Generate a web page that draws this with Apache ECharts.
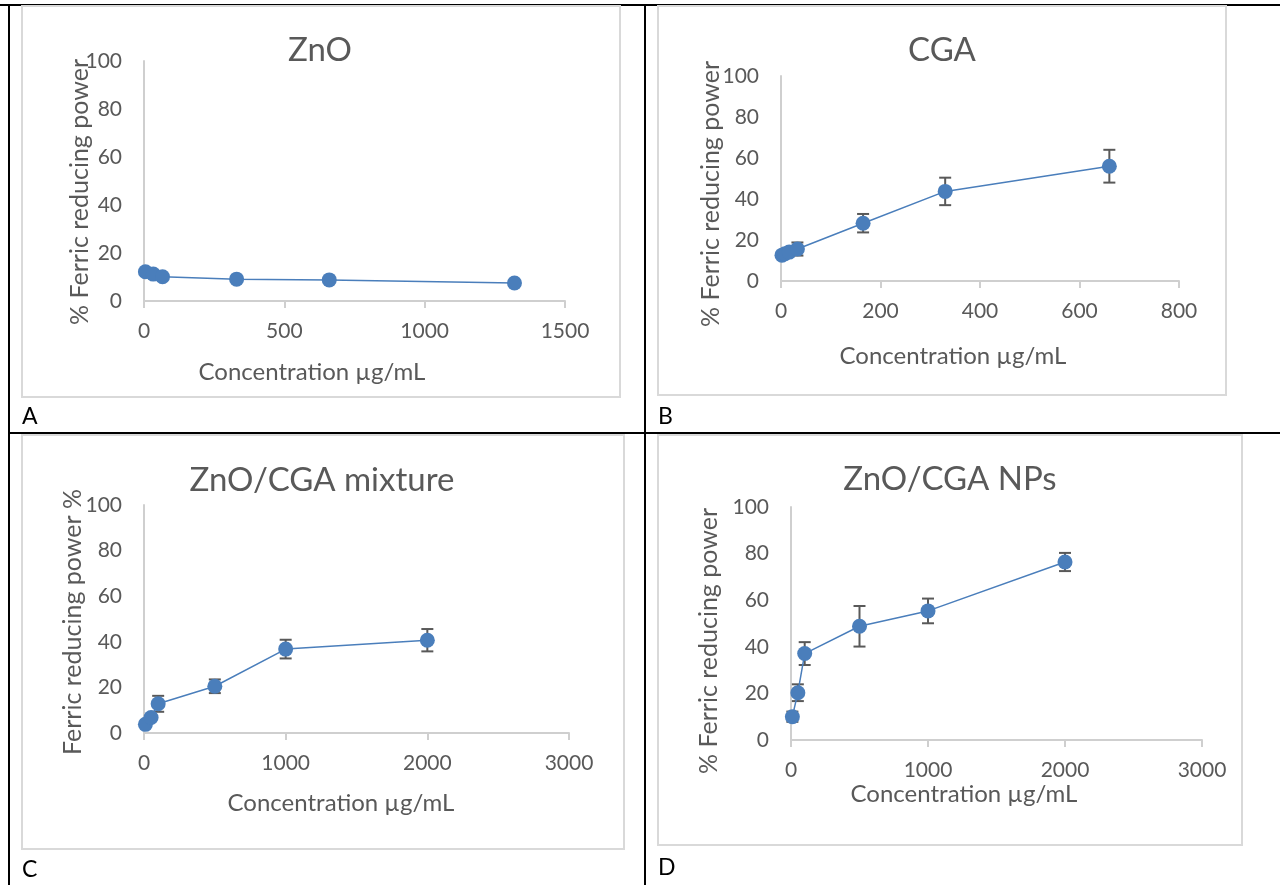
<!DOCTYPE html>
<html>
<head>
<meta charset="utf-8">
<title>Ferric reducing power</title>
<script src="https://cdn.jsdelivr.net/npm/echarts@6/dist/echarts.min.js"></script>
<style>
  html, body { margin: 0; padding: 0; background: #fff; }
  #chart { width: 1280px; height: 885px; }
</style>
</head>
<body>
<div id="chart"></div>
<script>
// ---- data: concentration (µg/mL), % ferric reducing power, error (±) ----
const concA = [5, 33, 66, 330, 660, 1320];
const valA  = [12.2, 11.2, 10.1, 9.1, 8.8, 7.5];

const concB = [2, 8, 16.5, 33, 165, 330, 660];
const valB  = [12.6, 13.3, 14.1, 15.6, 28.2, 43.7, 56.0];
const errB  = [1.0, 1.2, 1.5, 3.2, 4.5, 6.7, 8.0];

const concC = [10, 50, 100, 500, 1000, 2000];
const valC  = [3.8, 6.8, 12.8, 20.5, 36.8, 40.7];
const errC  = [0.8, 1.2, 3.5, 3.0, 4.1, 4.9];

const concD = [10, 50, 100, 500, 1000, 2000];
const valD  = [10.0, 20.3, 37.1, 48.8, 55.4, 76.4];
const errD  = [2.2, 3.6, 4.9, 8.7, 5.3, 3.9];

const titles = ['ZnO', 'CGA', 'ZnO/CGA mixture', 'ZnO/CGA NPs'];
const yNames = ['% Ferric reducing power', '% Ferric reducing power', 'Ferric reducing power %', '% Ferric reducing power'];
const xName = 'Concentration µg/mL';
const letters = ['A', 'B', 'C', 'D'];
const xMax = [1500, 800, 3000, 3000];
const xStep = [500, 200, 1000, 1000];

// ---- layout of the four panels ----
const panels = [
  { grid: { left: 144, top: 61, width: 421, height: 240 }, frame: [22, 6, 598, 391],
    title: [320, 50], xTitle: [312, 372], yTitle: [80, 192], letter: [22, 417] },
  { grid: { left: 781, top: 76, width: 398, height: 205 }, frame: [658, 6, 568, 389],
    title: [942, 50], xTitle: [953, 356], yTitle: [711, 194], letter: [658, 417] },
  { grid: { left: 144, top: 505, width: 425, height: 228 }, frame: [22, 435, 602, 414],
    title: [322, 480], xTitle: [341, 803], yTitle: [73, 622], letter: [22, 870] },
  { grid: { left: 791, top: 507, width: 411, height: 233 }, frame: [658, 435, 584, 410],
    title: [950, 479], xTitle: [964, 794], yTitle: [709, 641], letter: [658, 868] }
];

const FONT = 'Lato, "Open Sans", sans-serif';
const TEXT = '#595959';
const BLUE = '#4a7ebb';
const AXIS = '#cfcfcf';

const seriesData = [
  { x: concA, y: valA, e: null },
  { x: concB, y: valB, e: errB },
  { x: concC, y: valC, e: errC },
  { x: concD, y: valD, e: errD }
];

const grids = [], xAxes = [], yAxes = [], series = [], graphics = [];

// table rules around the four cells
const rule = (x1, y1, x2, y2) => ({
  type: 'line', z: 0, shape: { x1, y1, x2, y2 }, style: { stroke: '#000', lineWidth: 2 }
});
graphics.push(rule(0, 5, 1280, 5), rule(8, 433, 1280, 433), rule(9, 4, 9, 885), rule(645, 4, 645, 885));

const plain = v => String(v);

panels.forEach((p, i) => {
  grids.push(Object.assign({ containLabel: false }, p.grid));
  xAxes.push({
    type: 'value', gridIndex: i, min: 0, max: xMax[i], interval: xStep[i],
    axisLine: { show: true, lineStyle: { color: AXIS, width: 2 } },
    axisTick: { show: true, length: 7, lineStyle: { color: AXIS, width: 2 } },
    splitLine: { show: false },
    axisLabel: { color: TEXT, fontFamily: FONT, fontSize: 21, margin: 20, formatter: plain }
  });
  yAxes.push({
    type: 'value', gridIndex: i, min: 0, max: 100, interval: 20,
    axisLine: { show: true, lineStyle: { color: AXIS, width: 2 } },
    axisTick: { show: false },
    splitLine: { show: false },
    axisLabel: { color: TEXT, fontFamily: FONT, fontSize: 21, margin: 22, formatter: plain }
  });

  const d = seriesData[i];
  if (d.e) {
    series.push({
      type: 'custom', xAxisIndex: i, yAxisIndex: i, z: 1, silent: true,
      data: d.x.map((c, k) => [c, d.y[k] - d.e[k], d.y[k] + d.e[k]]),
      renderItem: (params, api) => {
        const lo = api.coord([api.value(0), api.value(1)]);
        const hi = api.coord([api.value(0), api.value(2)]);
        const st = { stroke: '#595959', lineWidth: 2 };
        const cap = 6;
        return {
          type: 'group',
          children: [
            { type: 'line', shape: { x1: hi[0], y1: hi[1], x2: lo[0], y2: lo[1] }, style: st },
            { type: 'line', shape: { x1: hi[0] - cap, y1: hi[1], x2: hi[0] + cap, y2: hi[1] }, style: st },
            { type: 'line', shape: { x1: lo[0] - cap, y1: lo[1], x2: lo[0] + cap, y2: lo[1] }, style: st }
          ]
        };
      }
    });
  }
  series.push({
    type: 'line', xAxisIndex: i, yAxisIndex: i, z: 3,
    data: d.x.map((c, k) => [c, d.y[k]]),
    symbol: 'circle', symbolSize: 15, showSymbol: true,
    lineStyle: { color: BLUE, width: 1.5 },
    itemStyle: { color: BLUE },
    emphasis: { disabled: true }
  });

  // chart area frame
  graphics.push({
    type: 'rect', z: 1, shape: { x: p.frame[0], y: p.frame[1], width: p.frame[2], height: p.frame[3] },
    style: { fill: 'none', stroke: '#d9d9d9', lineWidth: 2 }
  });
  // chart title
  graphics.push({
    type: 'text', x: p.title[0], y: p.title[1],
    style: { text: titles[i], fill: TEXT, font: '33px ' + FONT, textAlign: 'center', textVerticalAlign: 'middle' }
  });
  // axis titles
  graphics.push({
    type: 'text', x: p.xTitle[0], y: p.xTitle[1],
    style: { text: xName, fill: TEXT, font: '24px ' + FONT, textAlign: 'center', textVerticalAlign: 'middle' }
  });
  graphics.push({
    type: 'text', x: p.yTitle[0], y: p.yTitle[1], rotation: Math.PI / 2,
    style: { text: yNames[i], fill: TEXT, font: '25px ' + FONT, textAlign: 'center', textVerticalAlign: 'middle' }
  });
  // panel letter
  graphics.push({
    type: 'text', x: p.letter[0], y: p.letter[1],
    style: { text: letters[i], fill: '#000', font: '23px ' + FONT, textAlign: 'left', textVerticalAlign: 'middle' }
  });
});

const chart = echarts.init(document.getElementById('chart'), null, { renderer: 'canvas' });
chart.setOption({
  animation: false,
  backgroundColor: '#fff',
  grid: grids,
  xAxis: xAxes,
  yAxis: yAxes,
  series: series,
  graphic: { elements: graphics }
});
</script>
</body>
</html>
